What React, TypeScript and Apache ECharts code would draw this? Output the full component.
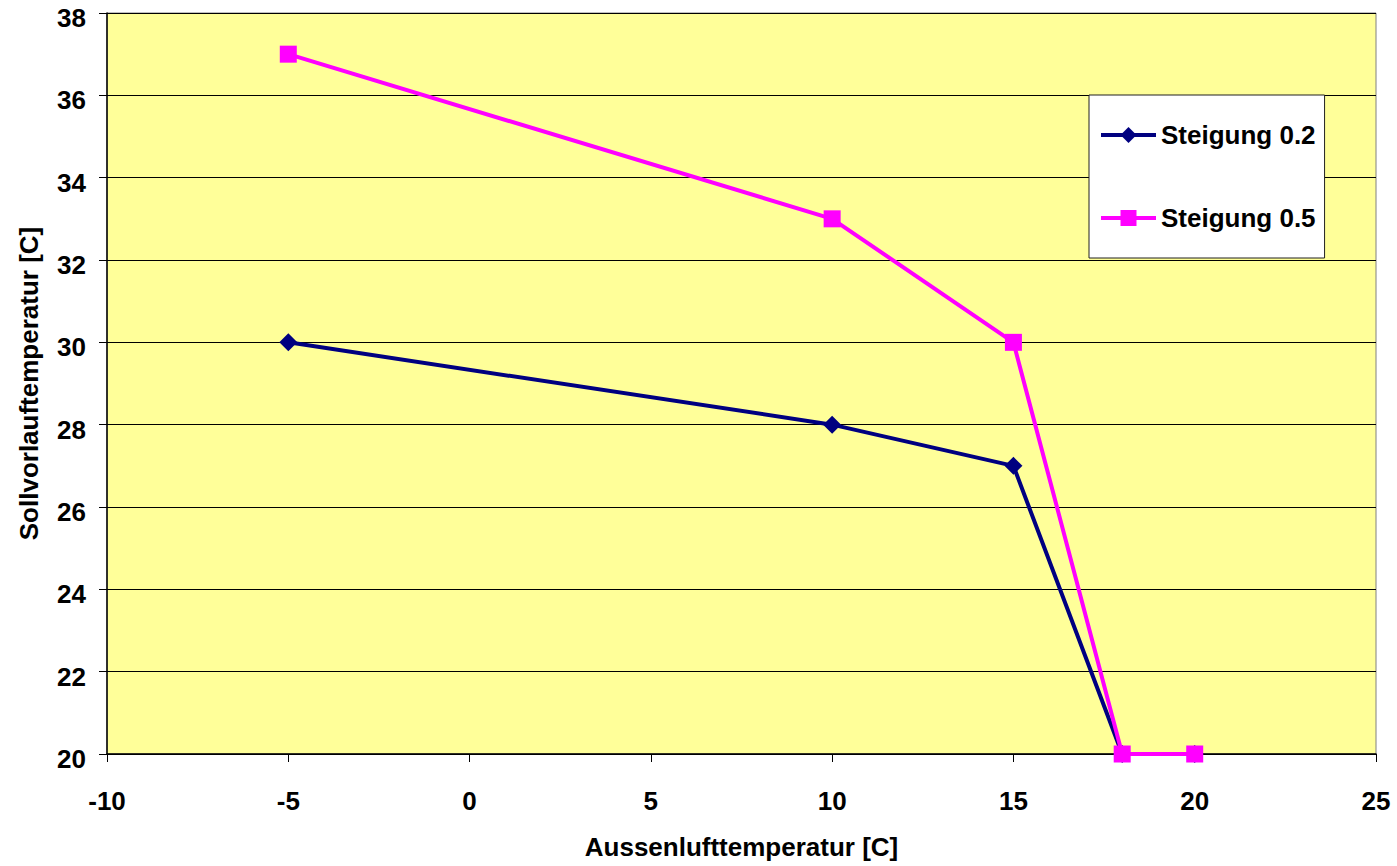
import React, { useEffect, useRef } from "react";
import * as echarts from "echarts";

const xValues = [-5, 10, 15, 18, 20];
const steigung02 = [30, 28, 27, 20, 20];
const steigung05 = [37, 33, 30, 20, 20];
const seriesNames = ["Steigung 0.2", "Steigung 0.5"];
const xTitle = "Aussenlufttemperatur [C]";
const yTitle = "Sollvorlauftemperatur [C]";

export default function App() {
  const ref = useRef<HTMLDivElement>(null);
  useEffect(() => {
    if (!ref.current) return;
    const chart = echarts.init(ref.current, null, { renderer: "svg" });
    const font = "Liberation Sans, Arial, sans-serif";
    chart.setOption({
      animation: false,
      textStyle: { fontFamily: font },
      grid: {
        left: 107,
        right: 21,
        top: 13,
        bottom: 112,
        outerBoundsMode: "none",
        containLabel: false,
        show: true,
        backgroundColor: "#FFFF99",
        borderColor: "#808080",
        borderWidth: 1,
      },
      legend: {
        orient: "vertical",
        left: 1089,
        top: 95,
        width: 237,
        backgroundColor: "#FFFFFF",
        borderColor: "#202020",
        borderWidth: 1,
        padding: [27, 9, 27, 10],
        itemGap: 57,
        itemWidth: 55,
        itemHeight: 20,
        lineStyle: { width: 4 },
        textStyle: { fontFamily: font, fontWeight: "bold", fontSize: 26, color: "#000" },
        data: seriesNames,
      },
      xAxis: {
        type: "value",
        min: -10,
        max: 25,
        interval: 5,
        name: xTitle,
        nameLocation: "middle",
        nameGap: 80,
        nameTextStyle: { fontFamily: font, fontWeight: "bold", fontSize: 26, color: "#000" },
        axisLine: { show: true, onZero: false, lineStyle: { color: "#000", width: 1.5 } },
        axisTick: { show: true, length: 8, inside: false, lineStyle: { color: "#000" } },
        axisLabel: { margin: 34, fontFamily: font, fontWeight: "bold", fontSize: 26, color: "#000" },
        splitLine: { show: false },
      },
      yAxis: {
        type: "value",
        min: 20,
        max: 38,
        interval: 2,
        name: yTitle,
        nameLocation: "middle",
        nameGap: 65,
        nameTextStyle: { fontFamily: font, fontWeight: "bold", fontSize: 26, color: "#000" },
        axisLine: { show: true, onZero: false, lineStyle: { color: "#000", width: 1.5 } },
        axisTick: { show: true, length: 8, inside: false, lineStyle: { color: "#000" } },
        axisLabel: {
          margin: 21,
          verticalAlign: "top",
          lineHeight: 10,
          fontFamily: font,
          fontWeight: "bold",
          fontSize: 26,
          color: "#000",
        },
        splitLine: { show: true, lineStyle: { color: "#000", width: 1 } },
      },
      series: [
        {
          name: seriesNames[0],
          type: "line",
          data: xValues.map((x, i) => [x, steigung02[i]]),
          symbol: "diamond",
          symbolSize: 18,
          lineStyle: { color: "#000080", width: 4 },
          itemStyle: { color: "#000080" },
          z: 2,
        },
        {
          name: seriesNames[1],
          type: "line",
          data: xValues.map((x, i) => [x, steigung05[i]]),
          symbol: "rect",
          symbolSize: 17,
          lineStyle: { color: "#FF00FF", width: 4 },
          itemStyle: { color: "#FF00FF" },
          z: 3,
        },
      ],
    });
    return () => chart.dispose();
  }, []);
  return (
    <div
      ref={ref}
      style={{ position: "absolute", left: 0, top: 0, width: 1397, height: 866 }}
    />
  );
}
